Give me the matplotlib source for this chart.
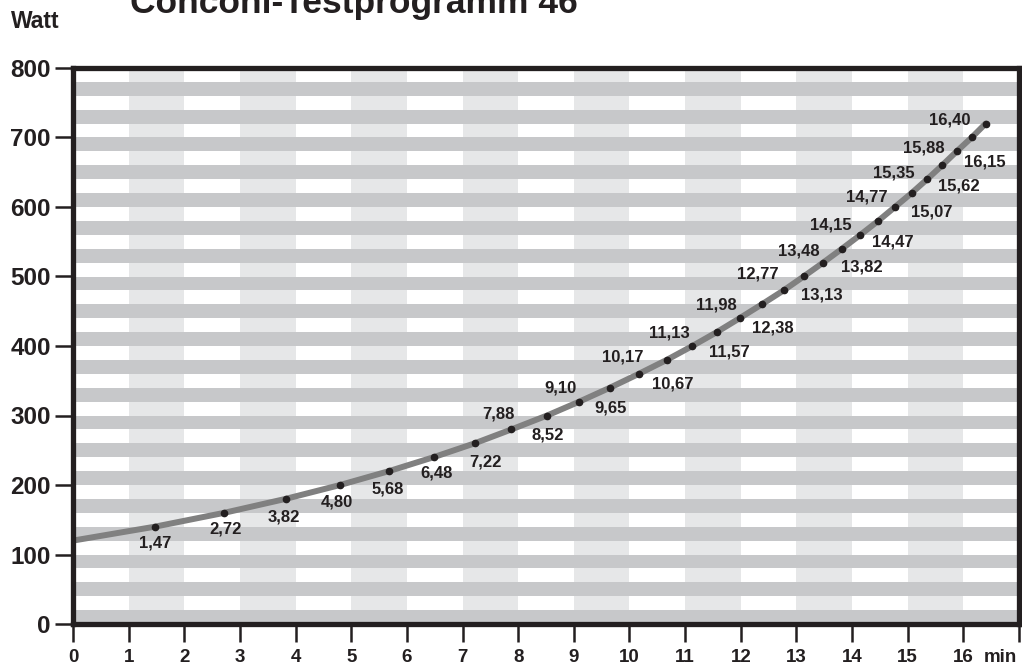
import matplotlib
matplotlib.use('Agg')
import matplotlib.pyplot as plt
import numpy as np

plt.rcParams['font.family'] = ['Liberation Sans', 'DejaVu Sans']
plt.rcParams['font.weight'] = 'bold'

# Conconi test: step times (min) for each 20 W load increase
start_watt = 120
watts = [140, 160, 180, 200, 220, 240, 260, 280, 300, 320,
         340, 360, 380, 400, 420, 440, 460, 480, 500, 520,
         540, 560, 580, 600, 620, 640, 660, 680, 700, 720]
times = [1.47, 2.72, 3.82, 4.80, 5.68, 6.48, 7.22, 7.88, 8.52, 9.10,
         9.65, 10.17, 10.67, 11.13, 11.57, 11.98, 12.38, 12.77, 13.13, 13.48,
         13.82, 14.15, 14.47, 14.77, 15.07, 15.35, 15.62, 15.88, 16.15, 16.40]
x_ticks = list(range(0, 18))
y_ticks = list(range(0, 900, 100))

# label offsets in pixels relative to the dot
offsets = [(0, -16), (1, -16), (-2, -18), (-3, -17), (-1, -18), (3, -16), (11, -19),
           (-13, 15), (1, -20), (-19, 14), (1, -20), (-16, 17), (6, -24),
           (-23, 13), (13, -20), (-23, 13), (11, -24), (-26, 16), (18, -19),
           (-24, 12), (20, -18), (-30, 10), (15, -21), (-28, 10), (20, -19),
           (-33, 6), (17, -21), (-33, 3), (13, -25), (-36, 4)]

ink = '#231f20'
fig = plt.figure(figsize=(10.22, 6.66), dpi=100)
ax = fig.add_axes([73/1022, 1 - 624/666, (1019 - 73)/1022, (624 - 68)/666])
ax.set_xlim(0, 17)
ax.set_ylim(0, 800)

# background stripes
for x0 in range(1, 17, 2):
    ax.axvspan(x0, x0 + 1, color='#e6e7e8', lw=0, zorder=0)
for y0 in range(0, 800, 40):
    ax.axhspan(y0, y0 + 20, color='#c7c8ca', lw=0, zorder=0.5)

ax.plot([0] + times, [start_watt] + watts, color='#808080', lw=4.3,
        solid_capstyle='round', zorder=2)
ax.plot(times, watts, 'o', color=ink, ms=4.5, zorder=3)
for t, w, (dx, dy) in zip(times, watts, offsets):
    ax.annotate('{:.2f}'.format(t).replace('.', ','), (t, w), xytext=(dx, dy),
                textcoords='offset pixels', ha='center', va='center',
                fontsize=12, fontweight='bold', color=ink, zorder=4)

for s in ax.spines.values():
    s.set_linewidth(3.8)
    s.set_color(ink)
    s.set_zorder(5)

ax.set_xticks(x_ticks)
ax.set_xticklabels([str(i) for i in x_ticks[:-1]] + [''])
ax.set_yticks(y_ticks)
ax.tick_params(axis='both', length=13, width=1.8, color=ink, labelcolor=ink)
ax.tick_params(axis='x', labelsize=13.5, pad=5)
ax.tick_params(axis='y', labelsize=17.5, pad=3)
for lab in ax.get_xticklabels() + ax.get_yticklabels():
    lab.set_fontweight('bold')

fig.text(1000/1022, 1 - 657/666, 'min', ha='center', va='center',
         fontsize=13.5, fontweight='bold', color=ink)
fig.text(11/1022, 1 - 22/666, 'Watt', ha='left', va='center',
         fontsize=16.5, fontweight='bold', color=ink)
fig.text(130/1022, 1 - 13/666, 'Conconi-Testprogramm 46', ha='left', va='baseline',
         fontsize=25.5, fontweight='bold', color=ink)

fig.savefig('out.png', dpi=100)
